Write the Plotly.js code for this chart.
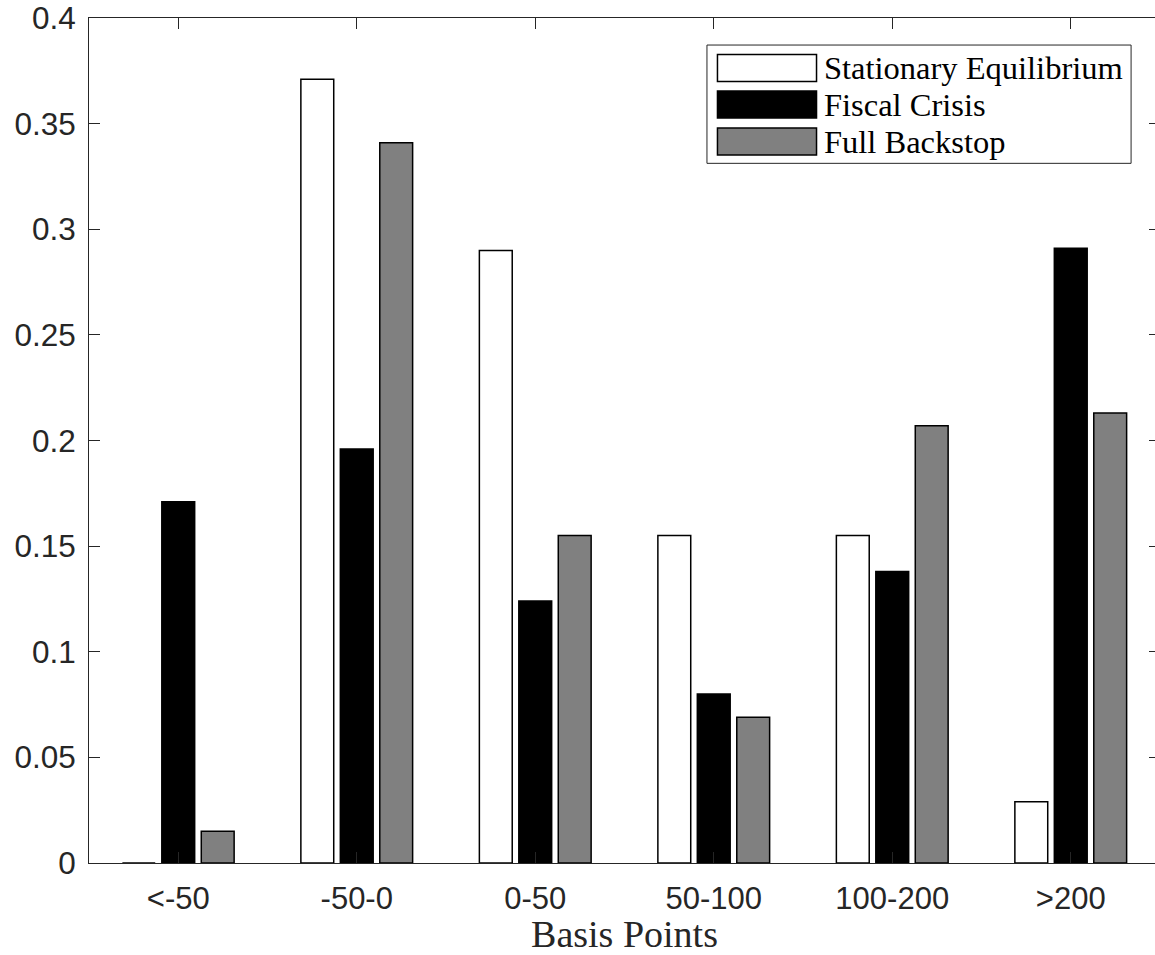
<!DOCTYPE html>
<html>
<head>
<meta charset="utf-8">
<script src="https://cdn.plot.ly/plotly-3.0.1.min.js"></script>
<style>
html,body{margin:0;padding:0;overflow:hidden;background:#fff;}
#chart{width:1170px;height:955px;}
</style>
</head>
<body>
<div id="chart"></div>
<script>
var categories = ["<-50", "-50-0", "0-50", "50-100", "100-200", ">200"];
var stationary = [0.0, 0.371, 0.290, 0.155, 0.155, 0.029];
var fiscalCrisis = [0.171, 0.196, 0.124, 0.080, 0.138, 0.291];
var fullBackstop = [0.015, 0.341, 0.155, 0.069, 0.207, 0.213];
var seriesNames = ["Stationary Equilibrium", "Fiscal Crisis", "Full Backstop"];
var seriesColors = ["#ffffff", "#000000", "#808080"];
var yTicks = [0, 0.05, 0.1, 0.15, 0.2, 0.25, 0.3, 0.35, 0.4];
var yTickText = ["0", "0.05", "0.1", "0.15", "0.2", "0.25", "0.3", "0.35", "0.4"];

var xPos = categories.map(function(c, i){ return i + 1; });
var seriesValues = [stationary, fiscalCrisis, fullBackstop];

var traces = seriesValues.map(function(vals, k){
  return {
    type: "bar",
    x: xPos,
    y: vals,
    name: seriesNames[k],
    marker: {color: seriesColors[k], line: {color: "#000000", width: 1.5}},
    showlegend: false,
    hoverinfo: "skip"
  };
});

// custom MATLAB-style legend
var shapes = [];
var annotations = [];
var lgX0 = 0.577, lgX1 = 0.973, lgY0 = 0.828, lgY1 = 0.968;
shapes.push({type:"rect", xref:"paper", yref:"paper", x0:lgX0, x1:lgX1, y0:lgY0, y1:lgY1,
  line:{color:"#262626", width:1}, fillcolor:"#ffffff", layer:"above"});
var rowCenters = [0.9408, 0.8976, 0.8538];
var swH = 0.016;
seriesNames.forEach(function(n, k){
  var yc = rowCenters[k];
  shapes.push({type:"rect", xref:"paper", yref:"paper", x0:0.5868, x1:0.6793, y0:yc - swH, y1:yc + swH,
    line:{color:"#000000", width:1.5}, fillcolor:seriesColors[k], layer:"above"});
  annotations.push({xref:"paper", yref:"paper", x:0.6845, y:yc, xanchor:"left", yanchor:"middle",
    text:n, showarrow:false, font:{family:"Liberation Serif", size:32.5, color:"#000000"}});
});

var layout = {
  width: 1170,
  height: 955,
  margin: {l: 89, r: 10, t: 18, b: 92},
  paper_bgcolor: "#ffffff",
  plot_bgcolor: "#ffffff",
  barmode: "group",
  bargap: 0.337,
  bargroupgap: 0.167,
  font: {family: "Liberation Sans, Arial, sans-serif", color: "#262626"},
  xaxis: {
    range: [0.5, 6.5],
    tickvals: xPos,
    ticktext: categories,
    ticks: "inside",
    ticklen: 11,
    tickwidth: 1,
    tickcolor: "#262626",
    showline: true,
    linecolor: "#262626",
    linewidth: 1,
    mirror: "ticks",
    showgrid: false,
    zeroline: false,
    tickfont: {family: "Liberation Sans", size: 31, color: "#262626"},
    ticklabelstandoff: 8,
    title: {text: "Basis Points", font: {family: "Liberation Serif", size: 38, color: "#262626"}, standoff: 8}
  },
  yaxis: {
    range: [0, 0.4],
    tickvals: yTicks,
    ticktext: yTickText,
    ticks: "inside",
    ticklen: 11,
    tickwidth: 1,
    tickcolor: "#262626",
    showline: true,
    linecolor: "#262626",
    linewidth: 1,
    mirror: "ticks",
    showgrid: false,
    zeroline: false,
    tickfont: {family: "Liberation Sans", size: 31.5, color: "#262626"},
    ticklabelstandoff: 6
  },
  shapes: shapes,
  annotations: annotations
};

Plotly.newPlot("chart", traces, layout, {displayModeBar: false, staticPlot: true});
</script>
</body>
</html>
